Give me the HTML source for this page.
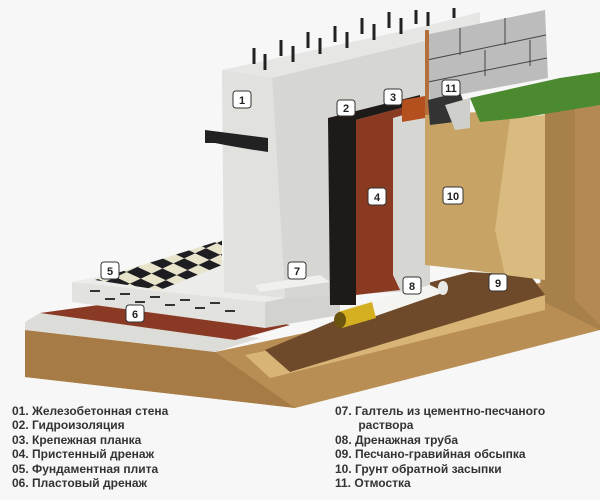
<!DOCTYPE html>
<html><head><meta charset="utf-8"><style>
body{margin:0;background:#f7f7f7;width:600px;height:500px;overflow:hidden}
svg{position:absolute;left:0;top:0}
.lg{position:absolute;font:bold 12px "Liberation Sans",sans-serif;color:#333;line-height:14.4px}
</style></head><body>
<svg width="600" height="410" viewBox="0 0 600 410">
<defs>
<pattern id="ck" width="24" height="24" patternUnits="userSpaceOnUse" patternTransform="rotate(-25) skewX(40)">
<rect width="24" height="24" fill="#e8e4cc"/><rect width="12" height="12" fill="#1e1e22"/><rect x="12" y="12" width="12" height="12" fill="#1e1e22"/>
</pattern>
<clipPath id="ckc"><polygon points="95,280 222,240 222,265 160,290"/></clipPath>
</defs>
<!-- earth base -->
<polygon points="25,330 215,352 600,270 600,330 295,408 25,377" fill="#b98e55"/>
<polygon points="25,330 215,352 295,408 25,377" fill="#a77b45"/>
<!-- right soil face -->
<polygon points="515,110 600,95 600,330 540,300 545,110" fill="#a8804a"/>
<polygon points="575,100 600,95 600,325 575,300" fill="#b48a52"/>
<!-- lower prep slab -->
<polygon points="25,322 40,313 260,338 215,352 25,330" fill="#dcdcd8"/>
<polygon points="40,313 150,298 290,325 235,340" fill="#8a3a24"/>
<!-- sand bed -->
<polygon points="245,355 545,295 545,310 270,378" fill="#d8b577"/>
<!-- gravel -->
<polygon points="265,350 420,285 470,272 530,275 545,295 290,372" fill="#6e4a2a"/>
<!-- slab -->
<polygon points="72,282 200,255 340,287 265,302" fill="#ececea"/>
<polygon points="72,282 265,302 265,328 72,302" fill="#e2e2df"/>
<polygon points="265,302 340,287 340,315 265,328" fill="#d2d2cf"/>
<g fill="#333"><rect x="90" y="290" width="10" height="2"/><rect x="120" y="293" width="10" height="2"/><rect x="150" y="296" width="10" height="2"/><rect x="180" y="299" width="10" height="2"/><rect x="210" y="302" width="10" height="2"/><rect x="105" y="298" width="10" height="2"/><rect x="135" y="301" width="10" height="2"/><rect x="165" y="304" width="10" height="2"/><rect x="195" y="307" width="10" height="2"/><rect x="225" y="310" width="10" height="2"/></g>
<!-- checker floor -->
<rect x="90" y="235" width="140" height="60" fill="url(#ck)" clip-path="url(#ckc)"/>
<!-- wall -->
<polygon points="222,70 430,25 480,12 480,60 272,78" fill="#e6e6e4"/>
<polygon points="272,78 430,40 430,290 290,298 285,298" fill="#d6d6d3"/>
<polygon points="222,70 272,78 285,298 224,292" fill="#e1e1de"/>
<path d="M205,130 L268,138 L268,152 Q240,148 215,143 L205,143 Z" fill="#222"/>
<!-- rebars -->
<g stroke="#222" stroke-width="3">
<line x1="254" y1="48" x2="254" y2="64"/><line x1="265" y1="54" x2="265" y2="70"/><line x1="281" y1="40" x2="281" y2="56"/><line x1="293" y1="46" x2="293" y2="62"/><line x1="308" y1="32" x2="308" y2="48"/><line x1="320" y1="38" x2="320" y2="54"/><line x1="335" y1="26" x2="335" y2="42"/><line x1="347" y1="32" x2="347" y2="48"/><line x1="362" y1="18" x2="362" y2="34"/><line x1="374" y1="24" x2="374" y2="40"/><line x1="389" y1="12" x2="389" y2="28"/><line x1="401" y1="18" x2="401" y2="34"/><line x1="416" y1="10" x2="416" y2="24"/><line x1="428" y1="12" x2="428" y2="26"/><line x1="454" y1="8" x2="454" y2="18"/>
</g>
<!-- brick wall -->
<polygon points="425,35 545,10 548,78 430,100" fill="#bcbcbc"/>
<g stroke="#444" stroke-width="1" fill="none"><line x1="427" y1="60" x2="546" y2="35"/><line x1="428" y1="82" x2="547" y2="58"/><line x1="460" y1="28" x2="460" y2="55"/><line x1="505" y1="18" x2="505" y2="45"/><line x1="485" y1="50" x2="485" y2="76"/><line x1="530" y1="40" x2="530" y2="66"/></g>
<!-- waterproofing -->
<polygon points="328,118 420,95 420,103 356,120 356,305 330,305" fill="#1e1a18"/>
<polygon points="356,120 420,103 420,110 393,118 393,275 400,290 356,295" fill="#8b3a22"/>
<polygon points="402,100 425,96 425,118 402,122" fill="#b4501e"/>
<rect x="425" y="30" width="4" height="85" fill="#b4703a"/>
<!-- backfill soil -->
<polygon points="425,115 515,110 520,120 545,115 545,280 470,270 425,265" fill="#c7a466"/>
<polygon points="510,118 545,115 545,280 505,275 495,230" fill="#d9bb80"/>
<!-- fillet 7 -->
<polygon points="255,285 320,275 330,282 260,292" fill="#f0f0ee"/>
<!-- grass/otmostka -->
<polygon points="428,100 460,92 470,120 430,125" fill="#333"/>
<polygon points="445,105 470,98 470,128 455,130" fill="#cfcfcb"/>
<polygon points="470,98 560,78 600,72 600,105 520,118 480,122" fill="#4b8a2e"/>
<!-- pipe -->
<polygon points="345,308 430,285 445,292 350,325" fill="#f4f4f0"/>
<ellipse cx="443" cy="288" rx="5" ry="7" fill="#e8e8e4"/>
<polygon points="338,312 372,302 376,318 342,328" fill="#d4b020"/>
<ellipse cx="340" cy="320" rx="6" ry="8" fill="#6a5410"/>
<!-- labels -->
<g font-family="Liberation Sans,sans-serif" font-size="11" font-weight="bold" text-anchor="middle" fill="#222">
<g stroke="#333" stroke-width="1" fill="#fff">
<rect x="233" y="91" width="18" height="17" rx="3"/><rect x="337" y="100" width="18" height="16" rx="3"/><rect x="384" y="89" width="18" height="16" rx="3"/><rect x="442" y="80" width="18" height="16" rx="3"/><rect x="368" y="188" width="18" height="17" rx="3"/><rect x="443" y="187" width="20" height="17" rx="3"/><rect x="101" y="262" width="18" height="17" rx="3"/><rect x="126" y="305" width="18" height="17" rx="3"/><rect x="288" y="262" width="18" height="17" rx="3"/><rect x="403" y="277" width="18" height="17" rx="3"/><rect x="489" y="274" width="18" height="17" rx="3"/></g>
<text x="242" y="104">1</text><text x="346" y="112">2</text><text x="393" y="101">3</text><text x="451" y="92">11</text><text x="377" y="201">4</text><text x="453" y="200">10</text><text x="110" y="275">5</text><text x="135" y="318">6</text><text x="297" y="275">7</text><text x="412" y="290">8</text><text x="498" y="287">9</text>
</g>
</svg>
<div class="lg" style="left:12px;top:404px">01. Железобетонная стена<br>02. Гидроизоляция<br>03. Крепежная планка<br>04. Пристенный дренаж<br>05. Фундаментная плита<br>06. Пластовый дренаж</div>
<div class="lg" style="left:335px;top:404px">07. Галтель из цементно-песчаного<br>&nbsp;&nbsp;&nbsp;&nbsp;&nbsp;&nbsp;&nbsp;раствора<br>08. Дренажная труба<br>09. Песчано-гравийная обсыпка<br>10. Грунт обратной засыпки<br>11. Отмостка</div>
</body></html>
